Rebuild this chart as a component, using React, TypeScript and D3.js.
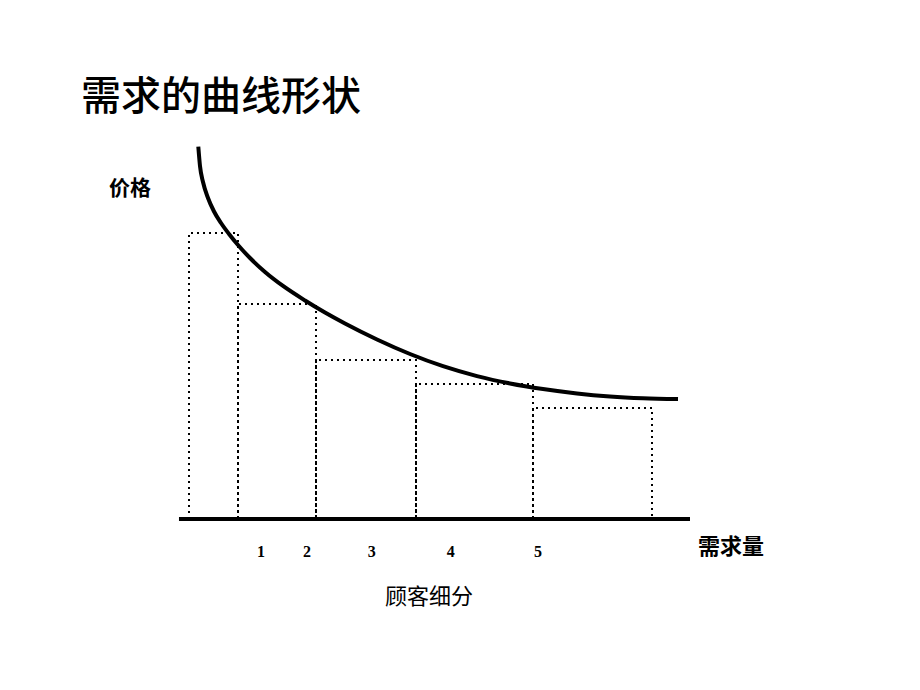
import React from "react";
import * as d3 from "d3";

// Demand curve points (x = quantity, y = price), in data units 0..100
const curveX = [3.59, 3.92, 4.51, 5.49, 6.67, 8.04, 9.61, 11.37, 13.73, 16.67, 20.2, 24.51, 28.43, 32.35, 38.63, 45.1, 51.57, 58.24, 64.71, 71.18, 77.84, 84.31, 90.78, 97.65];
const curveY = [97.97, 92.89, 88.68, 84.47, 80.92, 77.89, 75.0, 72.11, 68.68, 65.0, 61.32, 57.5, 54.34, 51.45, 47.24, 43.42, 40.21, 37.61, 35.68, 34.21, 33.05, 32.26, 31.79, 31.55];

// Customer segment blocks: edges along quantity, heights (price)
const segmentEdges = [1.8, 11.4, 26.7, 46.3, 69.2, 92.5];
const segmentPrices = [75.3, 56.6, 41.8, 35.5, 29.2];

// Segment tick labels and their positions
const tickLabels = ["1", "2", "3", "4", "5"];
const tickPositions = [15.9, 24.9, 37.6, 53.1, 70.2];

const title = "需求的曲线形状";
const yAxisTitle = "价格";
const xAxisTitle = "需求量";
const subTitle = "顾客细分";

const W = 920;
const H = 690;

export default function App() {
  const x = d3.scaleLinear().domain([0, 100]).range([180, 690]);
  const y = d3.scaleLinear().domain([0, 100]).range([519, 139]);

  const pts: [number, number][] = curveX.map((v, i) => [v, curveY[i]]);
  const line = d3
    .line<[number, number]>()
    .x((d) => x(d[0]))
    .y((d) => y(d[1]))
    .curve(d3.curveMonotoneX);

  const cjk = '"Noto Sans CJK SC", sans-serif';

  return (
    <svg
      width={W}
      height={H}
      style={{ position: "absolute", left: 0, top: 0, background: "#fff" }}
    >
      <rect x={0} y={0} width={W} height={H} fill="#fff" />
      <text x={81} y={110} fontFamily={cjk} fontSize={40} fontWeight={500} fill="#000">
        {title}
      </text>
      <text x={109} y={195} fontFamily={cjk} fontSize={21} fontWeight={700} fill="#000">
        {yAxisTitle}
      </text>

      {segmentPrices.map((p, i) => {
        const x0 = Math.round(x(segmentEdges[i]));
        const x1 = Math.round(x(segmentEdges[i + 1]));
        const yt = Math.round(y(p));
        const yb = y(0);
        const d = `M${x0},${yb}L${x0},${yt}L${x1},${yt}L${x1},${yb}`;
        return (
          <path
            key={i}
            d={d}
            fill="none"
            stroke="#000"
            strokeWidth={2}
            strokeDasharray="2 4"
          />
        );
      })}

      <path d={line(pts) || ""} fill="none" stroke="#000" strokeWidth={4} />

      <line x1={x(-0.2)} x2={x(100)} y1={y(0)} y2={y(0)} stroke="#000" strokeWidth={4} />

      {tickLabels.map((t, i) => (
        <text
          key={t}
          x={x(tickPositions[i])}
          y={557}
          textAnchor="middle"
          fontFamily='"Liberation Serif", serif'
          fontWeight={700}
          fontSize={16}
          fill="#000"
        >
          {t}
        </text>
      ))}

      <text x={698} y={554} fontFamily={cjk} fontSize={22} fontWeight={700} fill="#000">
        {xAxisTitle}
      </text>
      <text x={385} y={604} fontFamily={cjk} fontSize={22} fontWeight={400} fill="#000">
        {subTitle}
      </text>
    </svg>
  );
}
